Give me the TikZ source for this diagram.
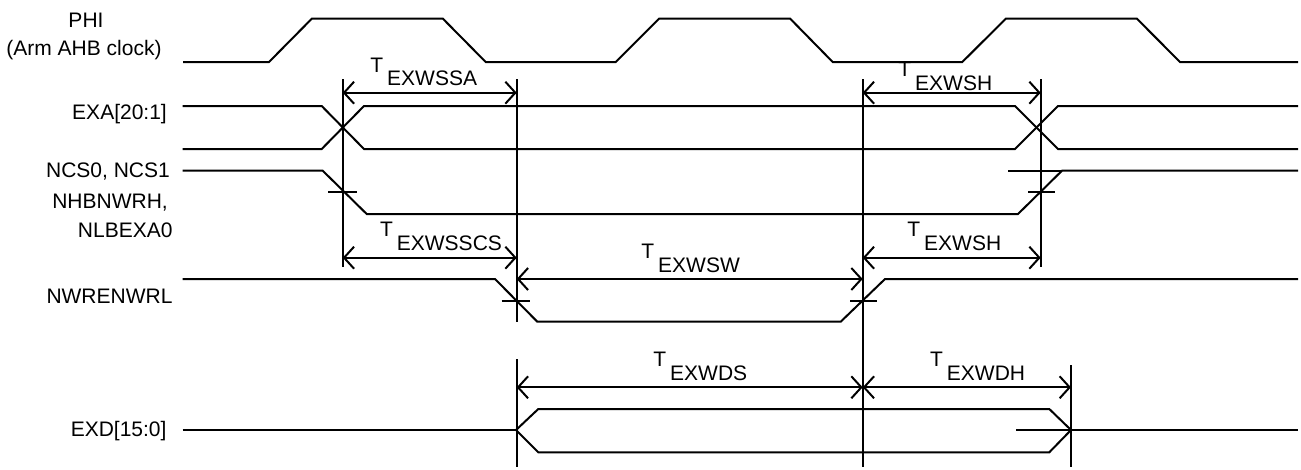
\documentclass[tikz,border=0pt]{standalone}
\usepackage{fontspec}
\setmainfont{Liberation Sans}
\usetikzlibrary{arrows.meta}
\tikzset{
  sig/.style={line width=2pt, line join=miter},
  vline/.style={line width=2pt},
  dim/.style={line width=2pt, {Straight Barb[length=10pt,width=22pt,line width=2pt]}-{Straight Barb[length=10pt,width=22pt,line width=2pt]}},
  tick/.style={line width=2pt},
  siglab/.style={anchor=base east, inner sep=0pt, font=\fontsize{21}{25}\selectfont},
  tlab/.style={anchor=base west, inner sep=0pt, font=\fontsize{21}{25}\selectfont}
}
\newcommand{\Tsub}[1]{\llap{\raisebox{13.5pt}{T}\hspace{4pt}}#1}
\begin{document}
\begin{tikzpicture}[x=1pt,y=-1pt]
\useasboundingbox (0,0) rectangle (1301,469);

% signal labels
\node[siglab, anchor=base] (lphi) at (86,27) {PHI};
\node[siglab, anchor=base] (lphi2) at (84,55) {(Arm AHB clock)};
\node[siglab] (lexa) at (167,119.3) {EXA[20:1]};
\node[siglab] (lncs) at (170,177.3) {NCS0, NCS1};
\node[siglab] (lnhb) at (168,208) {NHBNWRH,};
\node[siglab] (lnlb) at (172.7,237.3) {NLBEXA0};
\node[siglab] (lnwr) at (172.7,303.3) {NWRENWRL};
\node[siglab] (lexd) at (166.7,436) {EXD[15:0]};

% PHI clock
\draw[sig] (183,62) -- (269,62) -- (312,18.5) -- (442.7,18.5) -- (485.7,62) -- (615.7,62)
  -- (659.3,18.5) -- (790,18.5) -- (832.7,62) -- (962.3,62) -- (1006,18.5) -- (1136.7,18.5)
  -- (1180,62) -- (1298,62);

% EXA bus
\draw[sig] (182.7,106) -- (321.7,106) -- (364,149) -- (1015,149) -- (1058,106) -- (1298,106);
\draw[sig] (182.7,149) -- (321.7,149) -- (364,106) -- (1015,106) -- (1058,149) -- (1298,149);

% NCS
\draw[sig] (182.7,170.7) -- (322.7,170.7) -- (366.7,214) -- (1018,214) -- (1062,170.7) -- (1298,170.7);
\draw[sig] (1008,170.7) -- (1062,170.7);
\draw[tick] (328,192.3) -- (356.7,192.3);
\draw[tick] (1028,192.3) -- (1055,192.3);

% NWR
\draw[sig] (182.7,279) -- (495,279) -- (537.3,321.7) -- (840.7,321.7) -- (885,279) -- (1298,279);
\draw[tick] (501.7,301) -- (530,301);
\draw[tick] (850,301) -- (876.7,301);

% EXD bus
\draw[sig] (182.7,430) -- (516,430);
\draw[sig] (516,430) -- (538.3,409) -- (1049.3,409) -- (1071,430);
\draw[sig] (516,430) -- (538.3,452.3) -- (1049.3,452.3) -- (1071,430);
\draw[sig] (1016,430) -- (1298,430);

% vertical reference lines
\draw[vline] (342.7,79) -- (342.7,267);
\draw[vline] (516.7,79) -- (516.7,321.7);
\draw[vline] (516.7,359) -- (516.7,467);
\draw[vline] (862.7,79) -- (862.7,467);
\draw[vline] (1040.7,79) -- (1040.7,267);
\draw[vline] (1071,365) -- (1071,467);

% dimension arrow end points
\coordinate (a1) at (342.7,92.7);  \coordinate (b1) at (516.7,92.7);
\coordinate (a2) at (862.7,92.7);  \coordinate (b2) at (1040.7,92.7);
\coordinate (a3) at (342.7,257.7); \coordinate (b3) at (516.7,257.7);
\coordinate (a4) at (862.7,257.7); \coordinate (b4) at (1040.7,257.7);
\coordinate (a5) at (516.7,279);   \coordinate (b5) at (862.7,279);
\coordinate (a6) at (516.7,387.3); \coordinate (b6) at (862.7,387.3);
\coordinate (a7) at (862.7,387.3); \coordinate (b7) at (1071,387.3);

\draw[dim] (a1) -- (b1);
\draw[dim] (a2) -- (b2);
\draw[dim] (a3) -- (b3);
\draw[dim] (a4) -- (b4);
\draw[dim] (a5) -- (b5);
\draw[dim] (a6) -- (b6);
\draw[dim] (a7) -- (b7);

% timing labels
\node[tlab] (t1) at (387,85.7) {\Tsub{EXWSSA}};
\node[tlab] (t2) at (915,90) {\Tsub{EXWSH}};
\node[tlab] (t3) at (396.7,250) {\Tsub{EXWSSCS}};
\node[tlab] (t4) at (924,250) {\Tsub{EXWSH}};
\node[tlab] (t5) at (658,272) {\Tsub{EXWSW}};
\node[tlab] (t6) at (670,380) {\Tsub{EXWDS}};
\node[tlab] (t7) at (946.7,380) {\Tsub{EXWDH}};
\end{tikzpicture}
\end{document}
